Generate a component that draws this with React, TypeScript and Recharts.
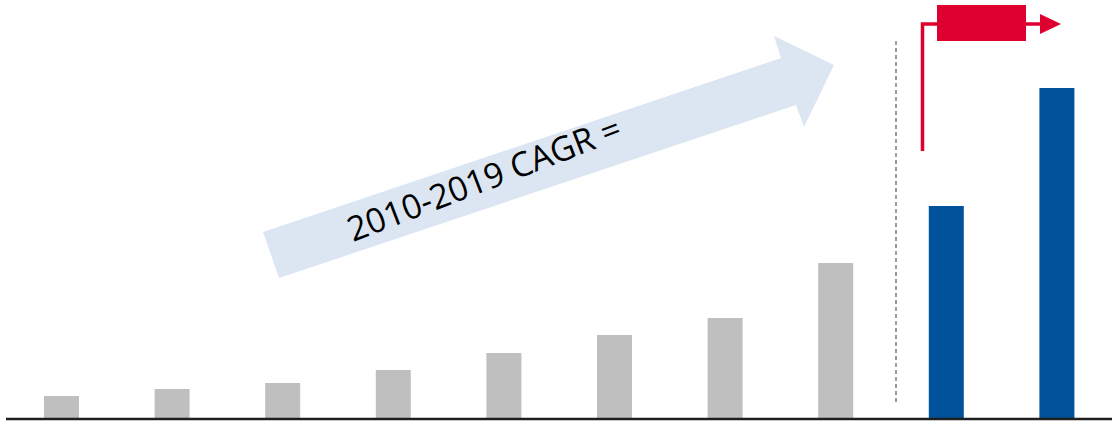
import { BarChart, Bar, Cell, XAxis, YAxis } from 'recharts';

// bar heights (no axis labels shown, so arbitrary units)
const categories = ['1', '2', '3', '4', '5', '6', '7', '8', '9', '10'];
const values = [23, 30, 36, 49, 66, 84, 101, 156, 213, 331];
const forecast = [false, false, false, false, false, false, false, false, true, true];

const cagrLabel = '2010-2019 CAGR =';

const data = categories.map((name, i) => ({ name, value: values[i], forecast: forecast[i] }));

const WIDTH = 1114;
const HEIGHT = 425;

function Annotations() {
    return (
        <svg
            width={WIDTH}
            height={HEIGHT}
            style={{ position: 'absolute', left: 0, top: 0, pointerEvents: 'none' }}
        >
            {/* growth arrow */}
            <polygon
                points="263,232 781,58 774,36 834,65 804,127 796,105 279,278"
                fill="#dce6f2"
            />
            <text
                x={353}
                y={242}
                transform="rotate(-21 353 242)"
                fontFamily="'Open Sans', sans-serif"
                fontSize={34}
                fill="#000"
                textLength={290}
                lengthAdjust="spacingAndGlyphs"
            >
                {cagrLabel}
            </text>

            {/* split between actual and forecast */}
            <line x1={896} y1={41} x2={896} y2={405} stroke="#9a9a9a" strokeWidth={2} strokeDasharray="4 3" />

            {/* red callout */}
            <polyline
                points="922.5,151 922.5,24 1042,24"
                fill="none"
                stroke="#e0002f"
                strokeWidth={3.5}
            />
            <polygon points="1040,14 1061,24 1040,34" fill="#e0002f" />
            <rect x={937} y={5} width={89} height={36} fill="#e0002f" />
        </svg>
    );
}

export default function App() {
    return (
        <div style={{ position: 'absolute', left: 0, top: 0, width: WIDTH, height: HEIGHT, background: '#fff' }}>
            <BarChart
                width={WIDTH}
                height={HEIGHT}
                data={data}
                margin={{ top: 19, right: 2, left: 6, bottom: 5 }}
            >
                <XAxis
                    dataKey="name"
                    tick={false}
                    tickLine={false}
                    height={1}
                    axisLine={{ stroke: '#1f1f1f', strokeWidth: 2.5 }}
                />
                <YAxis hide domain={[0, 400]} />
                <Bar dataKey="value" barSize={35} isAnimationActive={false}>
                    {data.map((entry, index) => (
                        <Cell key={`cell-${index}`} fill={entry.forecast ? '#00539b' : '#bfbfbf'} />
                    ))}
                </Bar>
            </BarChart>
            <Annotations />
        </div>
    );
}
